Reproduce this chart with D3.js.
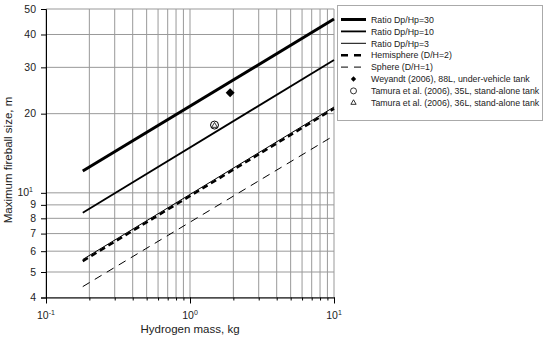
<!DOCTYPE html>
<html>
<head>
<meta charset="utf-8">
<script src="https://cdn.jsdelivr.net/npm/d3@7"></script>
<style>
  body { margin: 0; background: #fff; }
  svg { font-family: Arial, "Liberation Sans", sans-serif; }
</style>
</head>
<body>
<div id="chart"></div>
<script>
const width = 550;
const height = 339;

// mass range of the model lines, kg
const massEnds = [0.18, 10];

// fireball size at both ends of each line, m
const ratio30 = [12.1, 45.8];
const ratio10 = [8.4, 32.0];
const ratio3 = [5.58, 21.2];
const hemisphere = [5.5, 20.9];
const sphere = [4.4, 16.5];

// experiments: [mass kg, size m]
const weyandt = [[1.9, 24.0]];
const tamura35 = [[1.48, 18.1]];
const tamura36 = [[1.48, 18.0]];

const xMinor = [0.1, 0.2, 0.3, 0.4, 0.5, 0.6, 0.7, 0.8, 0.9, 1, 2, 3, 4, 5, 6, 7, 8, 9, 10];
const xMajor = [[0.1, "-1"], [1, "0"], [10, "1"]];
const yTicks = [4, 5, 6, 7, 8, 9, 10, 20, 30, 40, 50];

const lineSeries = [
  {name: "Ratio Dp/Hp=30", values: ratio30, width: 3, dash: null},
  {name: "Ratio Dp/Hp=10", values: ratio10, width: 1.8, dash: null},
  {name: "Ratio Dp/Hp=3", values: ratio3, width: 1, dash: null},
  {name: "Hemisphere (D/H=2)", values: hemisphere, width: 2.4, dash: "6,4"},
  {name: "Sphere (D/H=1)", values: sphere, width: 1, dash: "8,6"}
];

const svg = d3.select("#chart")
  .append("svg")
  .attr("width", width)
  .attr("height", height);

const xScale = d3.scaleLog().domain([0.1, 10]).range([46, 334]);
const yScale = d3.scaleLog().domain([4, 50]).range([297.5, 9]);

/* grid */
svg.append("g")
  .selectAll("line")
  .data(xMinor)
  .enter()
  .append("line")
  .attr("x1", d => xScale(d)).attr("x2", d => xScale(d))
  .attr("y1", yScale(50)).attr("y2", yScale(4))
  .attr("stroke", "#999").attr("stroke-width", 1);

svg.append("g")
  .selectAll("line")
  .data(yTicks)
  .enter()
  .append("line")
  .attr("x1", xScale(0.1)).attr("x2", xScale(10))
  .attr("y1", d => yScale(d)).attr("y2", d => yScale(d))
  .attr("stroke", "#999").attr("stroke-width", 1);

/* axes */
const xAxis = d3.axisBottom(xScale).tickValues(xMinor).tickSize(3).tickFormat("");
svg.append("g")
  .attr("transform", "translate(0," + yScale(4) + ")")
  .call(xAxis)
  .call(g => g.selectAll(".tick line").attr("stroke", "#000"))
  .call(g => g.select(".domain").attr("stroke", "#000"));

const xAxisMajor = d3.axisBottom(xScale).tickValues(xMajor.map(d => d[0])).tickSize(6).tickFormat("");
svg.append("g")
  .attr("transform", "translate(0," + yScale(4) + ")")
  .call(xAxisMajor)
  .call(g => g.select(".domain").remove());

const yAxis = d3.axisLeft(yScale).tickValues(yTicks).tickSize(5).tickFormat("");
svg.append("g")
  .attr("transform", "translate(" + xScale(0.1) + ",0)")
  .call(yAxis);

/* tick labels with superscripts */
const xLab = svg.append("g")
  .selectAll("text")
  .data(xMajor)
  .enter()
  .append("text")
  .attr("x", d => xScale(d[0]))
  .attr("y", 319)
  .attr("text-anchor", "middle")
  .attr("font-size", 10.5)
  .attr("fill", "#222");
xLab.append("tspan").text("10");
xLab.append("tspan").attr("dy", -4).attr("font-size", 7).text(d => d[1]);

const yLab = svg.append("g")
  .selectAll("text")
  .data(yTicks)
  .enter()
  .append("text")
  .attr("x", d => d === 10 ? 33 : 36)
  .attr("y", d => yScale(d) + 3.6)
  .attr("text-anchor", "end")
  .attr("font-size", 10.5)
  .attr("fill", "#222");
yLab.filter(d => d !== 10).text(d => d);
yLab.filter(d => d === 10).append("tspan").text("10");
yLab.filter(d => d === 10).append("tspan").attr("dy", -4).attr("font-size", 7).text("1");

/* axis titles */
svg.append("text")
  .attr("x", 190).attr("y", 333)
  .attr("text-anchor", "middle")
  .attr("font-size", 11.5)
  .attr("fill", "#222")
  .text("Hydrogen mass, kg");

svg.append("text")
  .attr("transform", "translate(12," + 160 + ") rotate(-90)")
  .attr("text-anchor", "middle")
  .attr("font-size", 11.5)
  .attr("fill", "#222")
  .text("Maximum fireball size, m");

/* model lines */
const line = d3.line()
  .x(d => xScale(d[0]))
  .y(d => yScale(d[1]));

svg.append("g")
  .selectAll("path")
  .data(lineSeries)
  .enter()
  .append("path")
  .attr("d", d => line(massEnds.map((m, i) => [m, d.values[i]])))
  .attr("fill", "none")
  .attr("stroke", "#000")
  .attr("stroke-width", d => d.width)
  .attr("stroke-dasharray", d => d.dash);

/* experimental points */
const diamond = d3.symbol().type(d3.symbolSquare).size(40);
const tri = d3.symbol().type(d3.symbolTriangle).size(14);

svg.append("g")
  .selectAll("path")
  .data(weyandt)
  .enter()
  .append("path")
  .attr("transform", d => "translate(" + xScale(d[0]) + "," + yScale(d[1]) + ") rotate(45)")
  .attr("d", diamond)
  .attr("fill", "#000");

svg.append("g")
  .selectAll("circle")
  .data(tamura35)
  .enter()
  .append("circle")
  .attr("cx", d => xScale(d[0]))
  .attr("cy", d => yScale(d[1]))
  .attr("r", 4)
  .attr("fill", "#fff")
  .attr("stroke", "#000");

svg.append("g")
  .selectAll("path")
  .data(tamura36)
  .enter()
  .append("path")
  .attr("transform", d => "translate(" + xScale(d[0]) + "," + yScale(d[1]) + ")")
  .attr("d", tri)
  .attr("fill", "none")
  .attr("stroke", "#000")
  .attr("stroke-width", 0.8);

/* legend */
const legend = svg.append("g");
legend.append("rect")
  .attr("x", 337.5).attr("y", 5.5)
  .attr("width", 205).attr("height", 115)
  .attr("fill", "#fff")
  .attr("stroke", "#aaa");

const rowY = i => 19.5 + i * 11.9;
const sx1 = 341, sx2 = 366, tx = 371;

lineSeries.forEach((s, i) => {
  legend.append("line")
    .attr("x1", sx1).attr("x2", sx2)
    .attr("y1", rowY(i)).attr("y2", rowY(i))
    .attr("stroke", "#000")
    .attr("stroke-width", s.width)
    .attr("stroke-dasharray", s.dash ? "7,6" : null);
});

const markers = [
  {name: "Weyandt (2006), 88L, under-vehicle tank", kind: "diamond"},
  {name: "Tamura et al. (2006), 35L, stand-alone tank", kind: "circle"},
  {name: "Tamura et al. (2006), 36L, stand-alone tank", kind: "triangle"}
];
const cx = (sx1 + sx2) / 2;
markers.forEach((m, j) => {
  const y = rowY(j + lineSeries.length);
  if (m.kind === "diamond") {
    legend.append("path").attr("transform", "translate(" + cx + "," + y + ") rotate(45)")
      .attr("d", d3.symbol().type(d3.symbolSquare).size(14)).attr("fill", "#000");
  } else if (m.kind === "circle") {
    legend.append("circle").attr("cx", cx).attr("cy", y).attr("r", 3)
      .attr("fill", "none").attr("stroke", "#000").attr("stroke-width", 0.8);
  } else {
    legend.append("path").attr("transform", "translate(" + cx + "," + y + ")")
      .attr("d", d3.symbol().type(d3.symbolTriangle).size(12))
      .attr("fill", "none").attr("stroke", "#000").attr("stroke-width", 0.8);
  }
});

legend.selectAll("text")
  .data(lineSeries.map(d => d.name).concat(markers.map(d => d.name)))
  .enter()
  .append("text")
  .attr("x", tx)
  .attr("y", (d, i) => rowY(i) + 3.2)
  .attr("font-size", 8.8)
  .attr("fill", "#222")
  .text(d => d);
</script>
</body>
</html>
